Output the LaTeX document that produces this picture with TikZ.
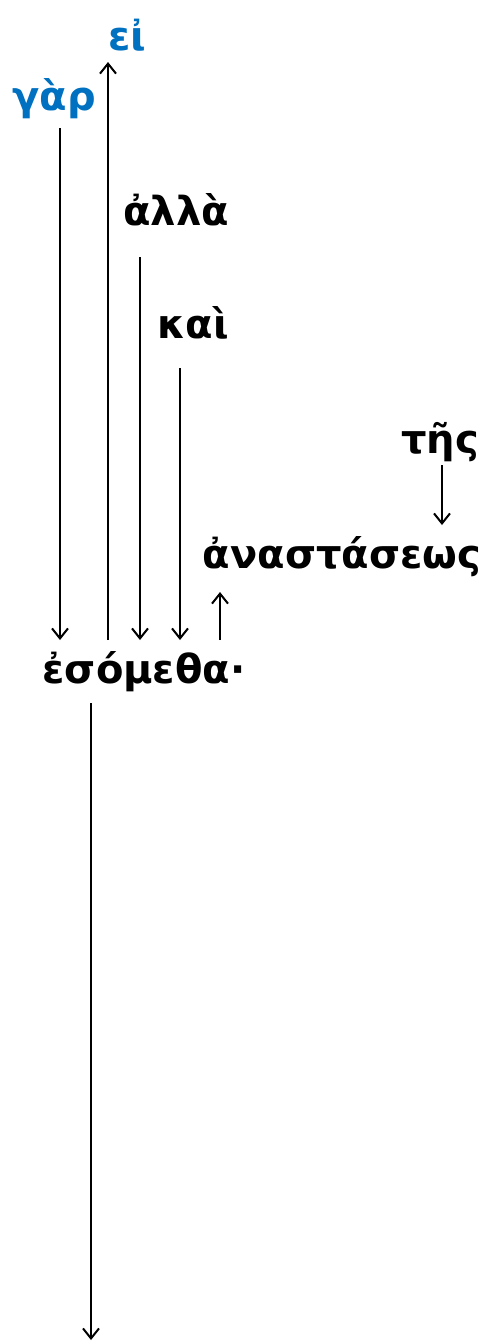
\documentclass[tikz,border=0pt]{standalone}
\usepackage{fontspec}
\setmainfont{DejaVu Sans}
\usetikzlibrary{arrows.meta,calc}
\definecolor{wblue}{HTML}{0070C0}
\begin{document}
\begin{tikzpicture}[x=1pt,y=-1pt,
  word/.style={inner sep=0pt,anchor=base,font=\fontsize{40}{46}\selectfont\bfseries},
  blueword/.style={word,text=wblue},
  arr/.style={line width=2pt,-{Straight Barb[length=10pt,width=16pt]}}]
\useasboundingbox (0,0) rectangle (496,1344);
\node[blueword] (ei) at (127,50) {εἰ};
\node[blueword] (gar) at (54,110) {γὰρ};
\node[word] (alla) at (176,225) {ἀλλὰ};
\node[word] (kai) at (193,338) {καὶ};
\node[word] (tes) at (440,453) {τῆς};
\node[word] (anast) at (342,568) {ἀναστάσεως};
\node[word] (esom) at (144,683) {ἐσόμεθα·};
\coordinate (end) at (91,1340);
\draw[arr] ($(gar.base)+(6,18)$) -- ($(esom.base)+(-84,-43)$);
\draw[arr] ($(esom.base)+(-36,-43)$) -- ($(ei.base)+(-19,12)$);
\draw[arr] ($(alla.base)+(-36,32)$) -- ($(esom.base)+(-4,-43)$);
\draw[arr] ($(kai.base)+(-13,30)$) -- ($(esom.base)+(36,-43)$);
\draw[arr] ($(esom.base)+(76,-43)$) -- ($(anast.base)+(-122,24)$);
\draw[arr] ($(tes.base)+(2,12)$) -- ($(anast.base)+(100,-43)$);
\draw[arr] ($(esom.base)+(-53,20)$) -- (end);
\end{tikzpicture}
\end{document}
